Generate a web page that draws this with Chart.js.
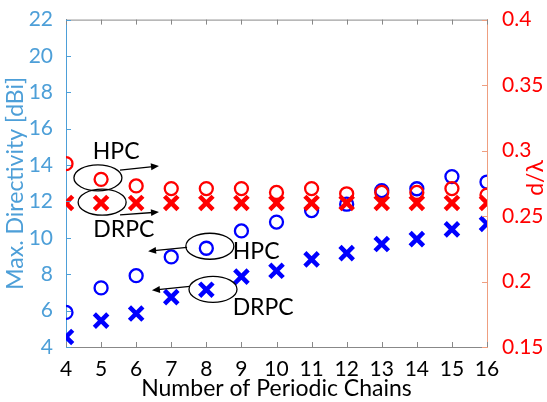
<!DOCTYPE html>
<html>
<head>
<meta charset="utf-8">
<script src="https://cdn.jsdelivr.net/npm/chart.js@4"></script>
<style>
  html, body { margin: 0; padding: 0; background: #fff; }
  #wrap { width: 547px; height: 402px; }
</style>
</head>
<body>
<div id="wrap"><canvas id="chart"></canvas></div>
<script>
// Data
const chains = [4, 5, 6, 7, 8, 9, 10, 11, 12, 13, 14, 15, 16];
const hpcDirectivity = [5.9, 7.25, 7.92, 8.95, 9.43, 10.38, 10.87, 11.5, 11.85, 12.6, 12.7, 13.37, 13.07];
const drpcDirectivity = [4.55, 5.45, 5.84, 6.74, 7.15, 7.87, 8.19, 8.82, 9.16, 9.66, 9.93, 10.47, 10.77];
const hpcSpacing = [0.290, 0.278, 0.273, 0.271, 0.271, 0.271, 0.268, 0.271, 0.267, 0.268, 0.268, 0.271, 0.266];
const drpcSpacing = [0.26, 0.26, 0.26, 0.26, 0.26, 0.26, 0.26, 0.26, 0.26, 0.26, 0.26, 0.26, 0.26];

const FONT = 'Lato';
const leftBlue = '#4d9fd8';
const rightOrange = '#ef9f80';

// Annotations (ellipse + arrow + label), in x / left-axis units
const notes = [
  { label: 'HPC', ex: 4.91, ey: 13.3, ax: [5.54, 13.73, 6.65, 13.95], tx: 5.43, ty: 14.75 },
  { label: 'DRPC', ex: 5.03, ey: 11.96, ax: [5.54, 11.26, 6.65, 11.42], tx: 5.65, ty: 10.45 },
  { label: 'HPC', ex: 8.1, ey: 9.54, ax: [7.45, 9.48, 6.34, 9.27], tx: 9.42, ty: 9.27 },
  { label: 'DRPC', ex: 8.19, ey: 7.17, ax: [7.53, 7.33, 6.45, 7.12], tx: 9.62, ty: 6.15 }
];

function toPoints(ys) {
  return chains.map((c, i) => ({ x: c, y: ys[i] }));
}

// Draws MATLAB-like inward ticks, the top frame, the right title and annotations
const extras = {
  id: 'extras',
  afterDatasetsDraw(chart) {
    const ctx = chart.ctx;
    const a = chart.chartArea;
    const sx = chart.scales.x, sy = chart.scales.y, sy2 = chart.scales.y2;
    ctx.save();

    // top frame
    ctx.strokeStyle = '#888';
    ctx.lineWidth = 1;
    ctx.beginPath();
    ctx.moveTo(a.left, a.top + 0.5);
    ctx.lineTo(a.right, a.top + 0.5);
    ctx.stroke();

    // x ticks, top and bottom
    sx.ticks.forEach(t => {
      const px = Math.round(sx.getPixelForValue(t.value)) + 0.5;
      ctx.beginPath();
      ctx.moveTo(px, a.bottom); ctx.lineTo(px, a.bottom - 5);
      ctx.moveTo(px, a.top); ctx.lineTo(px, a.top + 5);
      ctx.stroke();
    });
    ctx.strokeStyle = leftBlue;
    sy.ticks.forEach(t => {
      const py = Math.round(sy.getPixelForValue(t.value)) + 0.5;
      ctx.beginPath();
      ctx.moveTo(a.left, py); ctx.lineTo(a.left + 5, py);
      ctx.stroke();
    });
    ctx.strokeStyle = rightOrange;
    sy2.ticks.forEach(t => {
      const py = Math.round(sy2.getPixelForValue(t.value)) + 0.5;
      ctx.beginPath();
      ctx.moveTo(a.right, py); ctx.lineTo(a.right - 5, py);
      ctx.stroke();
    });

    // right axis title, reading bottom to top
    ctx.fillStyle = '#ff0000';
    ctx.font = '23px ' + FONT;
    ctx.textAlign = 'center';
    ctx.textBaseline = 'middle';
    ctx.translate(536, 178);
    ctx.rotate(-Math.PI / 2);
    ctx.fillText('d/\u03bb', 0, 0);
    ctx.setTransform(1, 0, 0, 1, 0, 0);

    // annotations
    ctx.strokeStyle = '#000';
    ctx.fillStyle = '#000';
    ctx.lineWidth = 1.3;
    notes.forEach(n => {
      const cx = sx.getPixelForValue(n.ex), cy = sy.getPixelForValue(n.ey);
      ctx.beginPath();
      ctx.ellipse(cx, cy, 24, 13, 0, 0, Math.PI * 2);
      ctx.stroke();

      const x1 = sx.getPixelForValue(n.ax[0]), y1 = sy.getPixelForValue(n.ax[1]);
      const x2 = sx.getPixelForValue(n.ax[2]), y2 = sy.getPixelForValue(n.ax[3]);
      const ang = Math.atan2(y2 - y1, x2 - x1);
      ctx.beginPath();
      ctx.moveTo(x1, y1);
      ctx.lineTo(x2 - 6 * Math.cos(ang), y2 - 6 * Math.sin(ang));
      ctx.stroke();
      ctx.beginPath();
      ctx.moveTo(x2, y2);
      ctx.lineTo(x2 - 8 * Math.cos(ang) + 3.5 * Math.sin(ang), y2 - 8 * Math.sin(ang) - 3.5 * Math.cos(ang));
      ctx.lineTo(x2 - 8 * Math.cos(ang) - 3.5 * Math.sin(ang), y2 - 8 * Math.sin(ang) + 3.5 * Math.cos(ang));
      ctx.closePath();
      ctx.fill();

      ctx.font = '23px ' + FONT;
      ctx.textAlign = 'center';
      ctx.textBaseline = 'middle';
      ctx.fillText(n.label, sx.getPixelForValue(n.tx), sy.getPixelForValue(n.ty));
    });
    ctx.restore();
  }
};

const ctx = document.getElementById('chart').getContext('2d');
const chart = new Chart(ctx, {
  type: 'scatter',
  data: {
    datasets: [
      {
        label: 'HPC directivity',
        data: toPoints(hpcDirectivity),
        yAxisID: 'y',
        pointStyle: 'circle',
        pointRadius: 6.5,
        pointBorderWidth: 2.3,
        borderColor: '#0000ff',
        backgroundColor: 'rgba(0,0,0,0)',
        order: 2
      },
      {
        label: 'DRPC directivity',
        data: toPoints(drpcDirectivity),
        yAxisID: 'y',
        pointStyle: 'crossRot',
        pointRadius: 9.5,
        pointBorderWidth: 4.5,
        borderColor: '#0000ff',
        backgroundColor: '#0000ff',
        order: 2
      },
      {
        label: 'HPC d/lambda',
        data: toPoints(hpcSpacing),
        yAxisID: 'y2',
        pointStyle: 'circle',
        pointRadius: 6.5,
        pointBorderWidth: 2.3,
        borderColor: '#ff0000',
        backgroundColor: 'rgba(0,0,0,0)',
        order: 1
      },
      {
        label: 'DRPC d/lambda',
        data: toPoints(drpcSpacing),
        yAxisID: 'y2',
        pointStyle: 'crossRot',
        pointRadius: 9.5,
        pointBorderWidth: 4.5,
        borderColor: '#ff0000',
        backgroundColor: '#ff0000',
        order: 1
      }
    ]
  },
  options: {
    responsive: true,
    maintainAspectRatio: false,
    animation: false,
    layout: { padding: { top: 12, right: 0, left: 0, bottom: 0 } },
    plugins: {
      legend: { display: false },
      tooltip: { enabled: false }
    },
    scales: {
      x: {
        type: 'linear',
        min: 4,
        max: 16,
        grid: { display: false },
        border: { display: true, color: '#888' },
        ticks: { stepSize: 1, color: '#000', padding: 2, font: { family: FONT, size: 21 } },
        title: { display: true, text: 'Number of Periodic Chains', color: '#000', padding: 0, font: { family: FONT, size: 23 } },
        afterFit(s) { s.height = 55; }
      },
      y: {
        position: 'left',
        min: 4,
        max: 22,
        grid: { display: false },
        border: { display: true, color: leftBlue },
        ticks: { stepSize: 2, color: leftBlue, padding: 5, font: { family: FONT, size: 21 } },
        title: { display: true, text: 'Max. Directivity [dBi]', color: leftBlue, padding: { top: 2, bottom: 0 }, font: { family: FONT, size: 23 } },
        afterFit(s) { s.width = 66; }
      },
      y2: {
        position: 'right',
        min: 0.15,
        max: 0.4,
        grid: { display: false },
        border: { display: true, color: rightOrange },
        ticks: {
          stepSize: 0.05,
          color: '#ff0000',
          padding: 7,
          font: { family: FONT, size: 21 },
          callback: v => String(Number(v.toFixed(2)))
        },
        afterFit(s) { s.width = 60; }
      }
    }
  },
  plugins: [extras]
});
</script>
</body>
</html>
